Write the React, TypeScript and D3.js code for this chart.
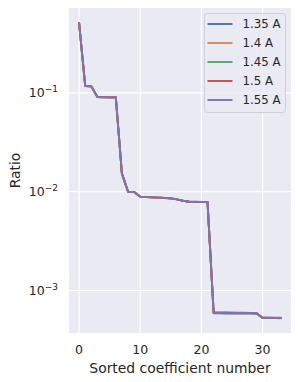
import React from "react";
import * as d3 from "d3";

const W = 298;
const H = 382;
const margin = { top: 8, right: 7, bottom: 49, left: 69 };

const seriesNames = ["1.35 A", "1.4 A", "1.45 A", "1.5 A", "1.55 A"];
const colors = ["#4C72B0", "#DD8452", "#55A868", "#C44E52", "#8172B3"];

const s135 = [0.508, 0.1172, 0.1162, 0.0906, 0.0905, 0.0904, 0.0903, 0.0152, 0.01, 0.0099, 0.00892, 0.00881, 0.00876, 0.00871, 0.00865, 0.00855, 0.00836, 0.0081, 0.00791, 0.0079, 0.00789, 0.00788, 0.000588, 0.000587, 0.000586, 0.000585, 0.000585, 0.000584, 0.000583, 0.000582, 0.000526, 0.000525, 0.000525, 0.000524];
const s140 = [0.509, 0.1173, 0.1163, 0.0906, 0.0905, 0.0904, 0.0903, 0.0153, 0.01, 0.0099, 0.00891, 0.0088, 0.00875, 0.0087, 0.00864, 0.00855, 0.00835, 0.0081, 0.0079, 0.00789, 0.00788, 0.00787, 0.000592, 0.000591, 0.00059, 0.000589, 0.000588, 0.000587, 0.000587, 0.000586, 0.000528, 0.000527, 0.000526, 0.000526];
const s145 = [0.51, 0.1174, 0.1163, 0.0905, 0.0904, 0.0903, 0.0902, 0.0153, 0.01, 0.0099, 0.0089, 0.0088, 0.00875, 0.0087, 0.00864, 0.00854, 0.00835, 0.0081, 0.0079, 0.00789, 0.00788, 0.00787, 0.000595, 0.000594, 0.000593, 0.000592, 0.000591, 0.00059, 0.00059, 0.000589, 0.000529, 0.000528, 0.000527, 0.000527];
const s150 = [0.511, 0.1175, 0.1164, 0.0905, 0.0904, 0.0903, 0.0902, 0.0153, 0.01, 0.0099, 0.0089, 0.0088, 0.00875, 0.0087, 0.00865, 0.00855, 0.00835, 0.0081, 0.0079, 0.00789, 0.00788, 0.00787, 0.000598, 0.000597, 0.000596, 0.000595, 0.000594, 0.000593, 0.000592, 0.000591, 0.00053, 0.000529, 0.000528, 0.000528];
const s155 = [0.512, 0.1175, 0.1165, 0.0905, 0.0904, 0.0903, 0.0902, 0.0153, 0.01, 0.0099, 0.0089, 0.0088, 0.00875, 0.0087, 0.00865, 0.00855, 0.00835, 0.0081, 0.0079, 0.00789, 0.00788, 0.00787, 0.0006, 0.000599, 0.000598, 0.000597, 0.000596, 0.000595, 0.000594, 0.000593, 0.000531, 0.00053, 0.000529, 0.000529];

const allSeries = [s135, s140, s145, s150, s155];

const xTicks = [0, 10, 20, 30];
const yTicks = [1e-1, 1e-2, 1e-3];
const yTickExp = ["\u22121", "\u22122", "\u22123"];

const font = "DejaVu Sans, sans-serif";

export default function App() {
  const iw = W - margin.left - margin.right;
  const ih = H - margin.top - margin.bottom;
  const n = s155.length;

  // matplotlib-ish 5% margins (log space for y)
  const xPad = (n - 1) * 0.05;
  const x = d3.scaleLinear().domain([-xPad, n - 1 + xPad]).range([0, iw]);
  const all = allSeries.flat();
  const lo = Math.log10(d3.min(all) as number);
  const hi = Math.log10(d3.max(all) as number);
  const yPad = (hi - lo) * 0.05;
  const y = d3.scaleLog().domain([Math.pow(10, lo - yPad), Math.pow(10, hi + yPad)]).range([ih, 0]);

  const line = d3.line<number>().x((_, i) => x(i)).y(d => y(d));

  const legX = 204.5 - margin.left;
  const legY = 13.5 - margin.top;

  return (
    <svg width={W} height={H} style={{ position: "absolute", left: 0, top: 0 }} fontFamily={font}>
      <rect width={W} height={H} fill="#ffffff" />
      <g transform={`translate(${margin.left},${margin.top})`}>
        <rect width={iw} height={ih} fill="#EAEAF2" />
        {xTicks.map(t => (
          <line key={"gx" + t} x1={x(t)} x2={x(t)} y1={0} y2={ih} stroke="#fff" strokeWidth={1.2} />
        ))}
        {yTicks.map(t => (
          <line key={"gy" + t} x1={0} x2={iw} y1={y(t)} y2={y(t)} stroke="#fff" strokeWidth={1.2} />
        ))}
        {allSeries.map((s, i) => (
          <path key={seriesNames[i]} d={line(s) || ""} fill="none" stroke={colors[i]} strokeWidth={1.9} strokeLinejoin="round" strokeLinecap="round" />
        ))}
        {xTicks.map(t => (
          <text key={"tx" + t} x={x(t)} y={ih + 21} textAnchor="middle" fontSize={12.5} fill="#262626">{t}</text>
        ))}
        {yTicks.map((t, i) => (
          <text key={"ty" + t} x={-11} y={y(t) + 4.5} textAnchor="end" fontSize={12.5} fill="#262626">
            10<tspan dy={-5} fontSize={9}>{yTickExp[i]}</tspan>
          </text>
        ))}
        <g transform={`translate(${legX},${legY})`}>
          <rect width={81} height={99} rx={3} fill="#EAEAF2" fillOpacity={0.8} stroke="#cfcfd6" strokeWidth={1} />
          {seriesNames.map((name, i) => (
            <g key={name} transform={`translate(0,${10.5 + i * 19})`}>
              <line x1={3} x2={28} y1={0} y2={0} stroke={colors[i]} strokeWidth={1.9} />
              <text x={38} y={4.2} fontSize={11.8} fill="#262626">{name}</text>
            </g>
          ))}
        </g>
      </g>
      <text x={margin.left + iw / 2} y={373} textAnchor="middle" fontSize={13.9} fill="#262626">Sorted coefficient number</text>
      <text transform={`translate(20,${margin.top + ih / 2}) rotate(-90)`} textAnchor="middle" fontSize={13.9} fill="#262626">Ratio</text>
    </svg>
  );
}
